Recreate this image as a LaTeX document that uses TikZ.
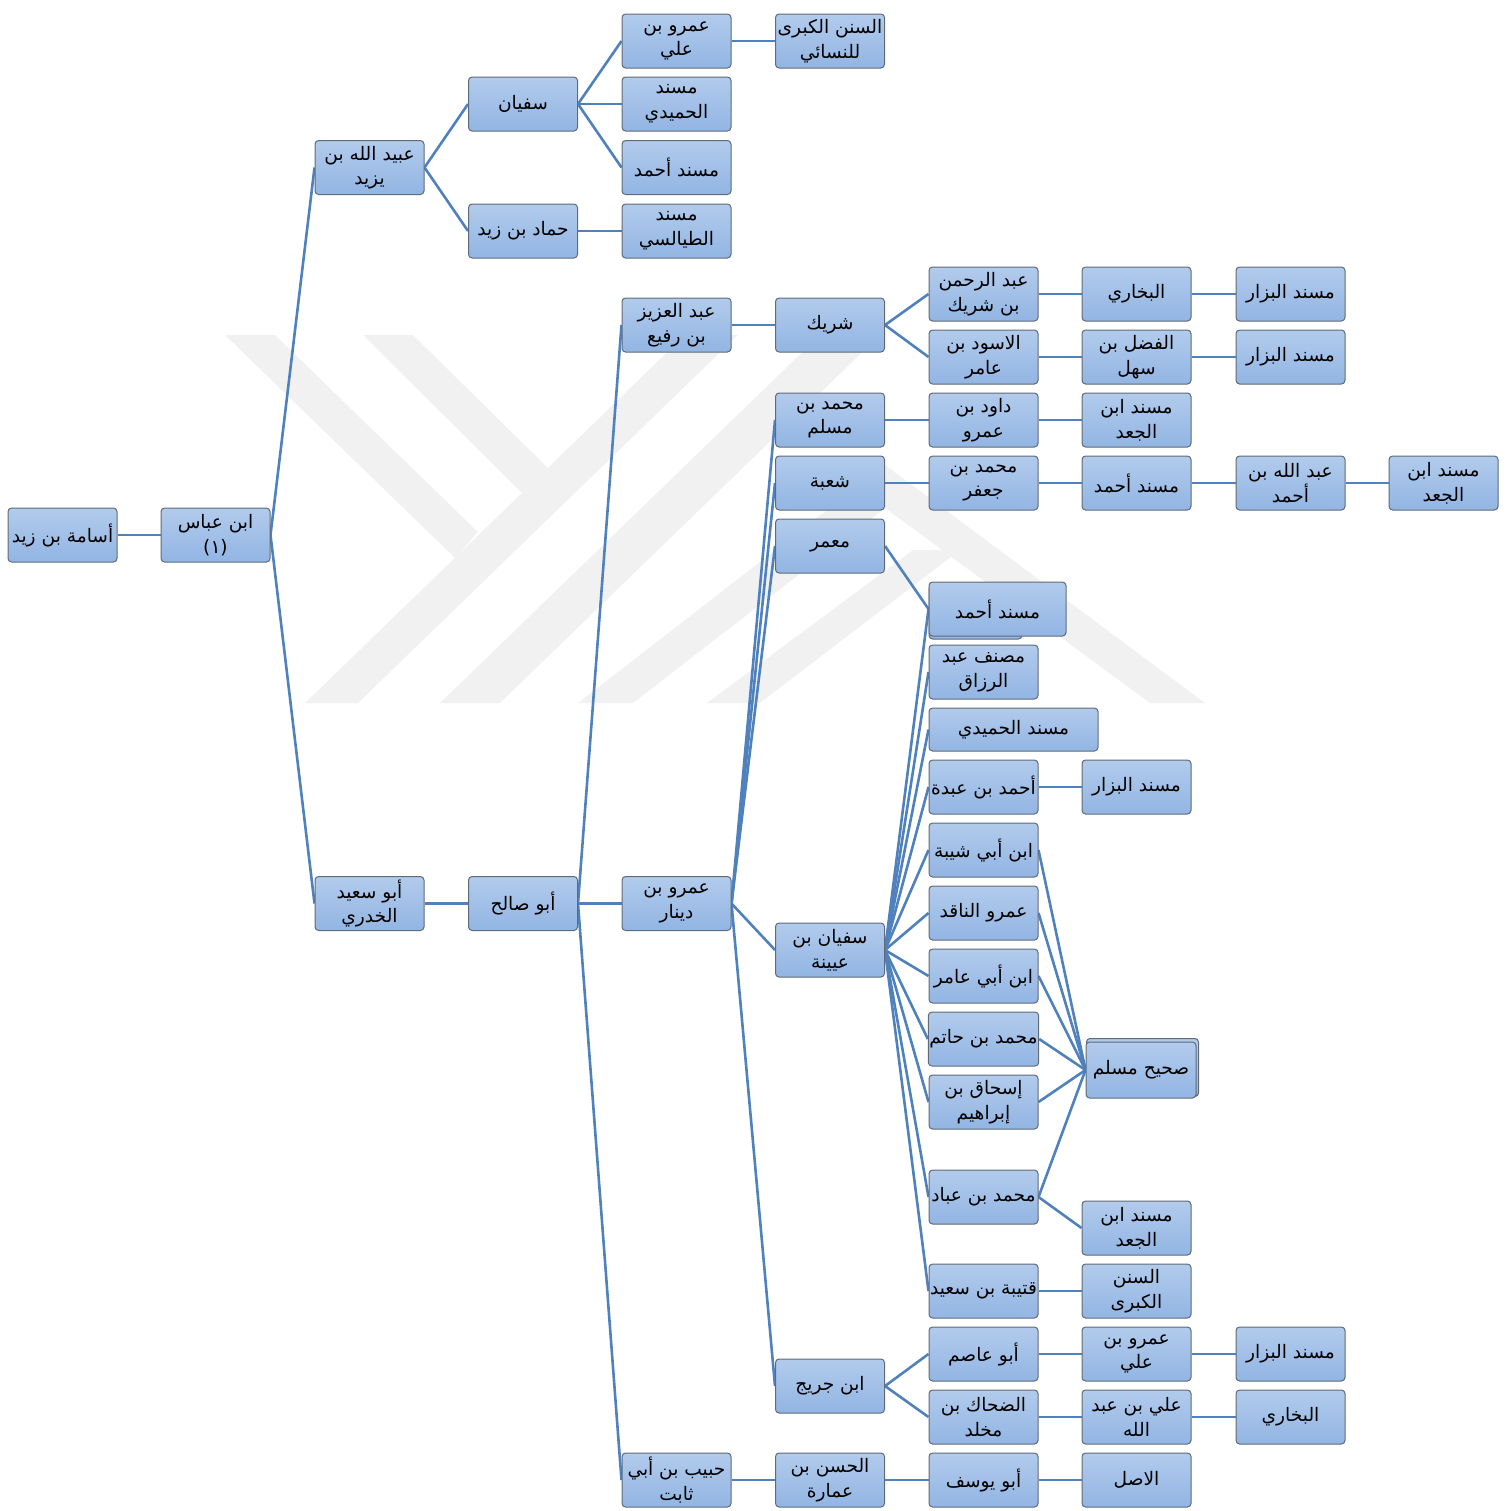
\documentclass[tikz,border=0pt]{standalone}
\usepackage{fontspec}
\newfontfamily\arabicfont[Script=Arabic]{DejaVu Sans}
\TeXXeTstate=1
\newcommand{\ar}[1]{\beginR #1\endR}
\definecolor{boxtop}{RGB}{178,203,236}
\definecolor{boxbot}{RGB}{146,181,227}
\definecolor{boxline}{RGB}{96,106,120}
\definecolor{cnblue}{RGB}{79,129,189}
\definecolor{wmgray}{RGB}{241,241,241}
\pgfdeclarelayer{bg}
\pgfsetlayers{bg,main}
\tikzset{
  bx/.style={draw=boxline, line width=0.5pt, rounded corners=1.8pt,
    top color=boxtop, bottom color=boxbot,
    minimum width=54.5pt, minimum height=27pt, inner sep=0.5pt,
    align=center, font=\arabicfont\fontsize{9.3}{12.3}\selectfont},
  cn/.style={draw=cnblue, line width=1.3pt},
  wm/.style={fill=wmgray, draw=none}
}
\begin{document}
\begin{tikzpicture}[x=0.5pt,y=-0.5pt]
\useasboundingbox (0,0) rectangle (1507,1511);
% nodes
\node[bx] (n0) at (62.5,535) {\ar{أسامة بن زيد}};
\node[bx] (n1) at (215.5,535) {\ar{ابن عباس}\\(١)};
\node[bx] (n2) at (369.5,167.5) {\ar{عبيد الله بن}\\\ar{يزيد}};
\node[bx] (n3) at (369.5,903.5) {\ar{أبو سعيد}\\\ar{الخدري}};
\node[bx] (n4) at (523,104) {\ar{سفيان}};
\node[bx] (n5) at (523,231) {\ar{حماد بن زيد}};
\node[bx] (n6) at (523,903.5) {\ar{أبو صالح}};
\node[bx] (n7) at (676.5,41) {\ar{عمرو بن}\\\ar{علي}};
\node[bx] (n8) at (676.5,104) {\ar{مسند}\\\ar{الحميدي}};
\node[bx] (n9) at (676.5,167.5) {\ar{مسند أحمد}};
\node[bx] (n10) at (676.5,231) {\ar{مسند}\\\ar{الطيالسي}};
\node[bx] (n11) at (830,41) {\ar{السنن الكبرى}\\\ar{للنسائي}};
\node[bx] (n12) at (676.5,325) {\ar{عبد العزيز}\\\ar{بن رفيع}};
\node[bx] (n13) at (676.5,903.5) {\ar{عمرو بن}\\\ar{دينار}};
\node[bx] (n14) at (676.5,1480) {\ar{حبيب بن أبي}\\\ar{ثابت}};
\node[bx] (n15) at (830,325) {\ar{شريك}};
\node[bx] (n16) at (830,420) {\ar{محمد بن}\\\ar{مسلم}};
\node[bx] (n17) at (830,483) {\ar{شعبة}};
\node[bx] (n18) at (830,546) {\ar{معمر}};
\node[bx] (n19) at (830,950) {\ar{سفيان بن}\\\ar{عيينة}};
\node[bx] (n20) at (830,1386) {\ar{ابن جريج}};
\node[bx] (n21) at (830,1480) {\ar{الحسن بن}\\\ar{عمارة}};
\node[bx] (n22) at (983.5,294) {\ar{عبد الرحمن}\\\ar{بن شريك}};
\node[bx] (n23) at (983.5,357) {\ar{الاسود بن}\\\ar{عامر}};
\node[bx] (n24) at (983.5,420) {\ar{داود بن}\\\ar{عمرو}};
\node[bx] (n25) at (983.5,483) {\ar{محمد بن}\\\ar{جعفر}};
\node[bx, minimum width=46.5pt] (n26s) at (975.5,612) {};
\node[bx, minimum width=68.5pt] (n26) at (997.5,609) {\ar{مسند أحمد}};
\node[bx] (n27) at (983.5,672) {\ar{مصنف عبد}\\\ar{الرزاق}};
\node[bx, minimum width=84.5pt, minimum height=21.5pt] (n28) at (1013.5,729.5) {\ar{مسند الحميدي}};
\node[bx] (n29) at (983.5,787) {\ar{أحمد بن عبدة}};
\node[bx] (n30) at (983.5,850) {\ar{ابن أبي شيبة}};
\node[bx] (n31) at (983.5,913) {\ar{عمرو الناقد}};
\node[bx] (n32) at (983.5,976) {\ar{ابن أبي عامر}};
\node[bx] (n33) at (983.5,1039) {\ar{محمد بن حاتم}};
\node[bx] (n34) at (983.5,1102) {\ar{إسحاق بن}\\\ar{إبراهيم}};
\node[bx] (n35) at (983.5,1197) {\ar{محمد بن عباد}};
\node[bx] (n36) at (983.5,1291) {\ar{قتيبة بن سعيد}};
\node[bx] (n37) at (983.5,1354) {\ar{أبو عاصم}};
\node[bx] (n38) at (983.5,1417) {\ar{الضحاك بن}\\\ar{مخلد}};
\node[bx] (n39) at (983.5,1480) {\ar{أبو يوسف}};
\node[bx] (n40) at (1136.5,294) {\ar{البخاري}};
\node[bx] (n41) at (1136.5,357) {\ar{الفضل بن}\\\ar{سهل}};
\node[bx] (n42) at (1136.5,420) {\ar{مسند ابن}\\\ar{الجعد}};
\node[bx] (n43) at (1136.5,483) {\ar{مسند أحمد}};
\node[bx] (n44) at (1136.5,787) {\ar{مسند البزار}};
\node[bx, minimum width=56pt, minimum height=29pt, fill=boxbot] (n45b) at (1142.5,1067.5) {};
\node[bx, minimum width=55pt, minimum height=28pt] (n45) at (1141,1070) {\ar{صحيح مسلم}};
\node[bx] (n46) at (1136.5,1228) {\ar{مسند ابن}\\\ar{الجعد}};
\node[bx] (n47) at (1136.5,1291) {\ar{السنن}\\\ar{الكبرى}};
\node[bx] (n48) at (1136.5,1354) {\ar{عمرو بن}\\\ar{علي}};
\node[bx] (n49) at (1136.5,1417) {\ar{علي بن عبد}\\\ar{الله}};
\node[bx] (n50) at (1136.5,1480) {\ar{الاصل}};
\node[bx] (n51) at (1290.5,294) {\ar{مسند البزار}};
\node[bx] (n52) at (1290.5,357) {\ar{مسند البزار}};
\node[bx] (n53) at (1290.5,483) {\ar{عبد الله بن}\\\ar{أحمد}};
\node[bx] (n54) at (1290.5,1354) {\ar{مسند البزار}};
\node[bx] (n55) at (1290.5,1417) {\ar{البخاري}};
\node[bx] (n56) at (1443.5,483) {\ar{مسند ابن}\\\ar{الجعد}};
% background: watermark and connectors
\begin{pgfonlayer}{bg}
\fill[wm] (225,335) -- (275,335) -- (478,532) -- (455,558) -- cycle;
\fill[wm] (363,335) -- (413,335) -- (548,468) -- (522,493) -- cycle;
\fill[wm] (305,703) -- (358,703) -- (738,335) -- (685,335) -- cycle;
\fill[wm] (440,703) -- (500,703) -- (880,335) -- (820,335) -- cycle;
\fill[wm] (578,703) -- (885,465) -- (1205,703) -- (1150,703) -- (885,508) -- (633,703) -- cycle;
\fill[wm] (707,703) -- (760,703) -- (960,550) -- (913,550) -- cycle;
\foreach \a/\b in {n0/n1, n1/n2, n1/n3, n2/n4, n2/n5, n4/n7, n4/n8, n4/n9, n5/n10, n7/n11,
  n3/n6, n6/n12, n6/n13, n6/n14, n12/n15, n15/n22, n15/n23, n22/n40, n40/n51, n23/n41, n41/n52,
  n13/n16, n13/n17, n13/n18, n13/n19, n13/n20, n16/n24, n24/n42, n17/n25, n25/n43, n43/n53, n53/n56,
  n18/n26, n19/n26, n19/n27, n19/n28, n19/n29, n19/n30, n19/n31, n19/n32, n19/n33, n19/n34, n19/n35, n19/n36,
  n29/n44, n30/n45, n31/n45, n32/n45, n33/n45, n34/n45, n35/n45, n35/n46, n36/n47,
  n20/n37, n20/n38, n37/n48, n48/n54, n38/n49, n49/n55, n14/n21, n21/n39, n39/n50}
  \draw[cn] (\a.east) -- (\b.west);
\end{pgfonlayer}
\end{tikzpicture}
\end{document}
